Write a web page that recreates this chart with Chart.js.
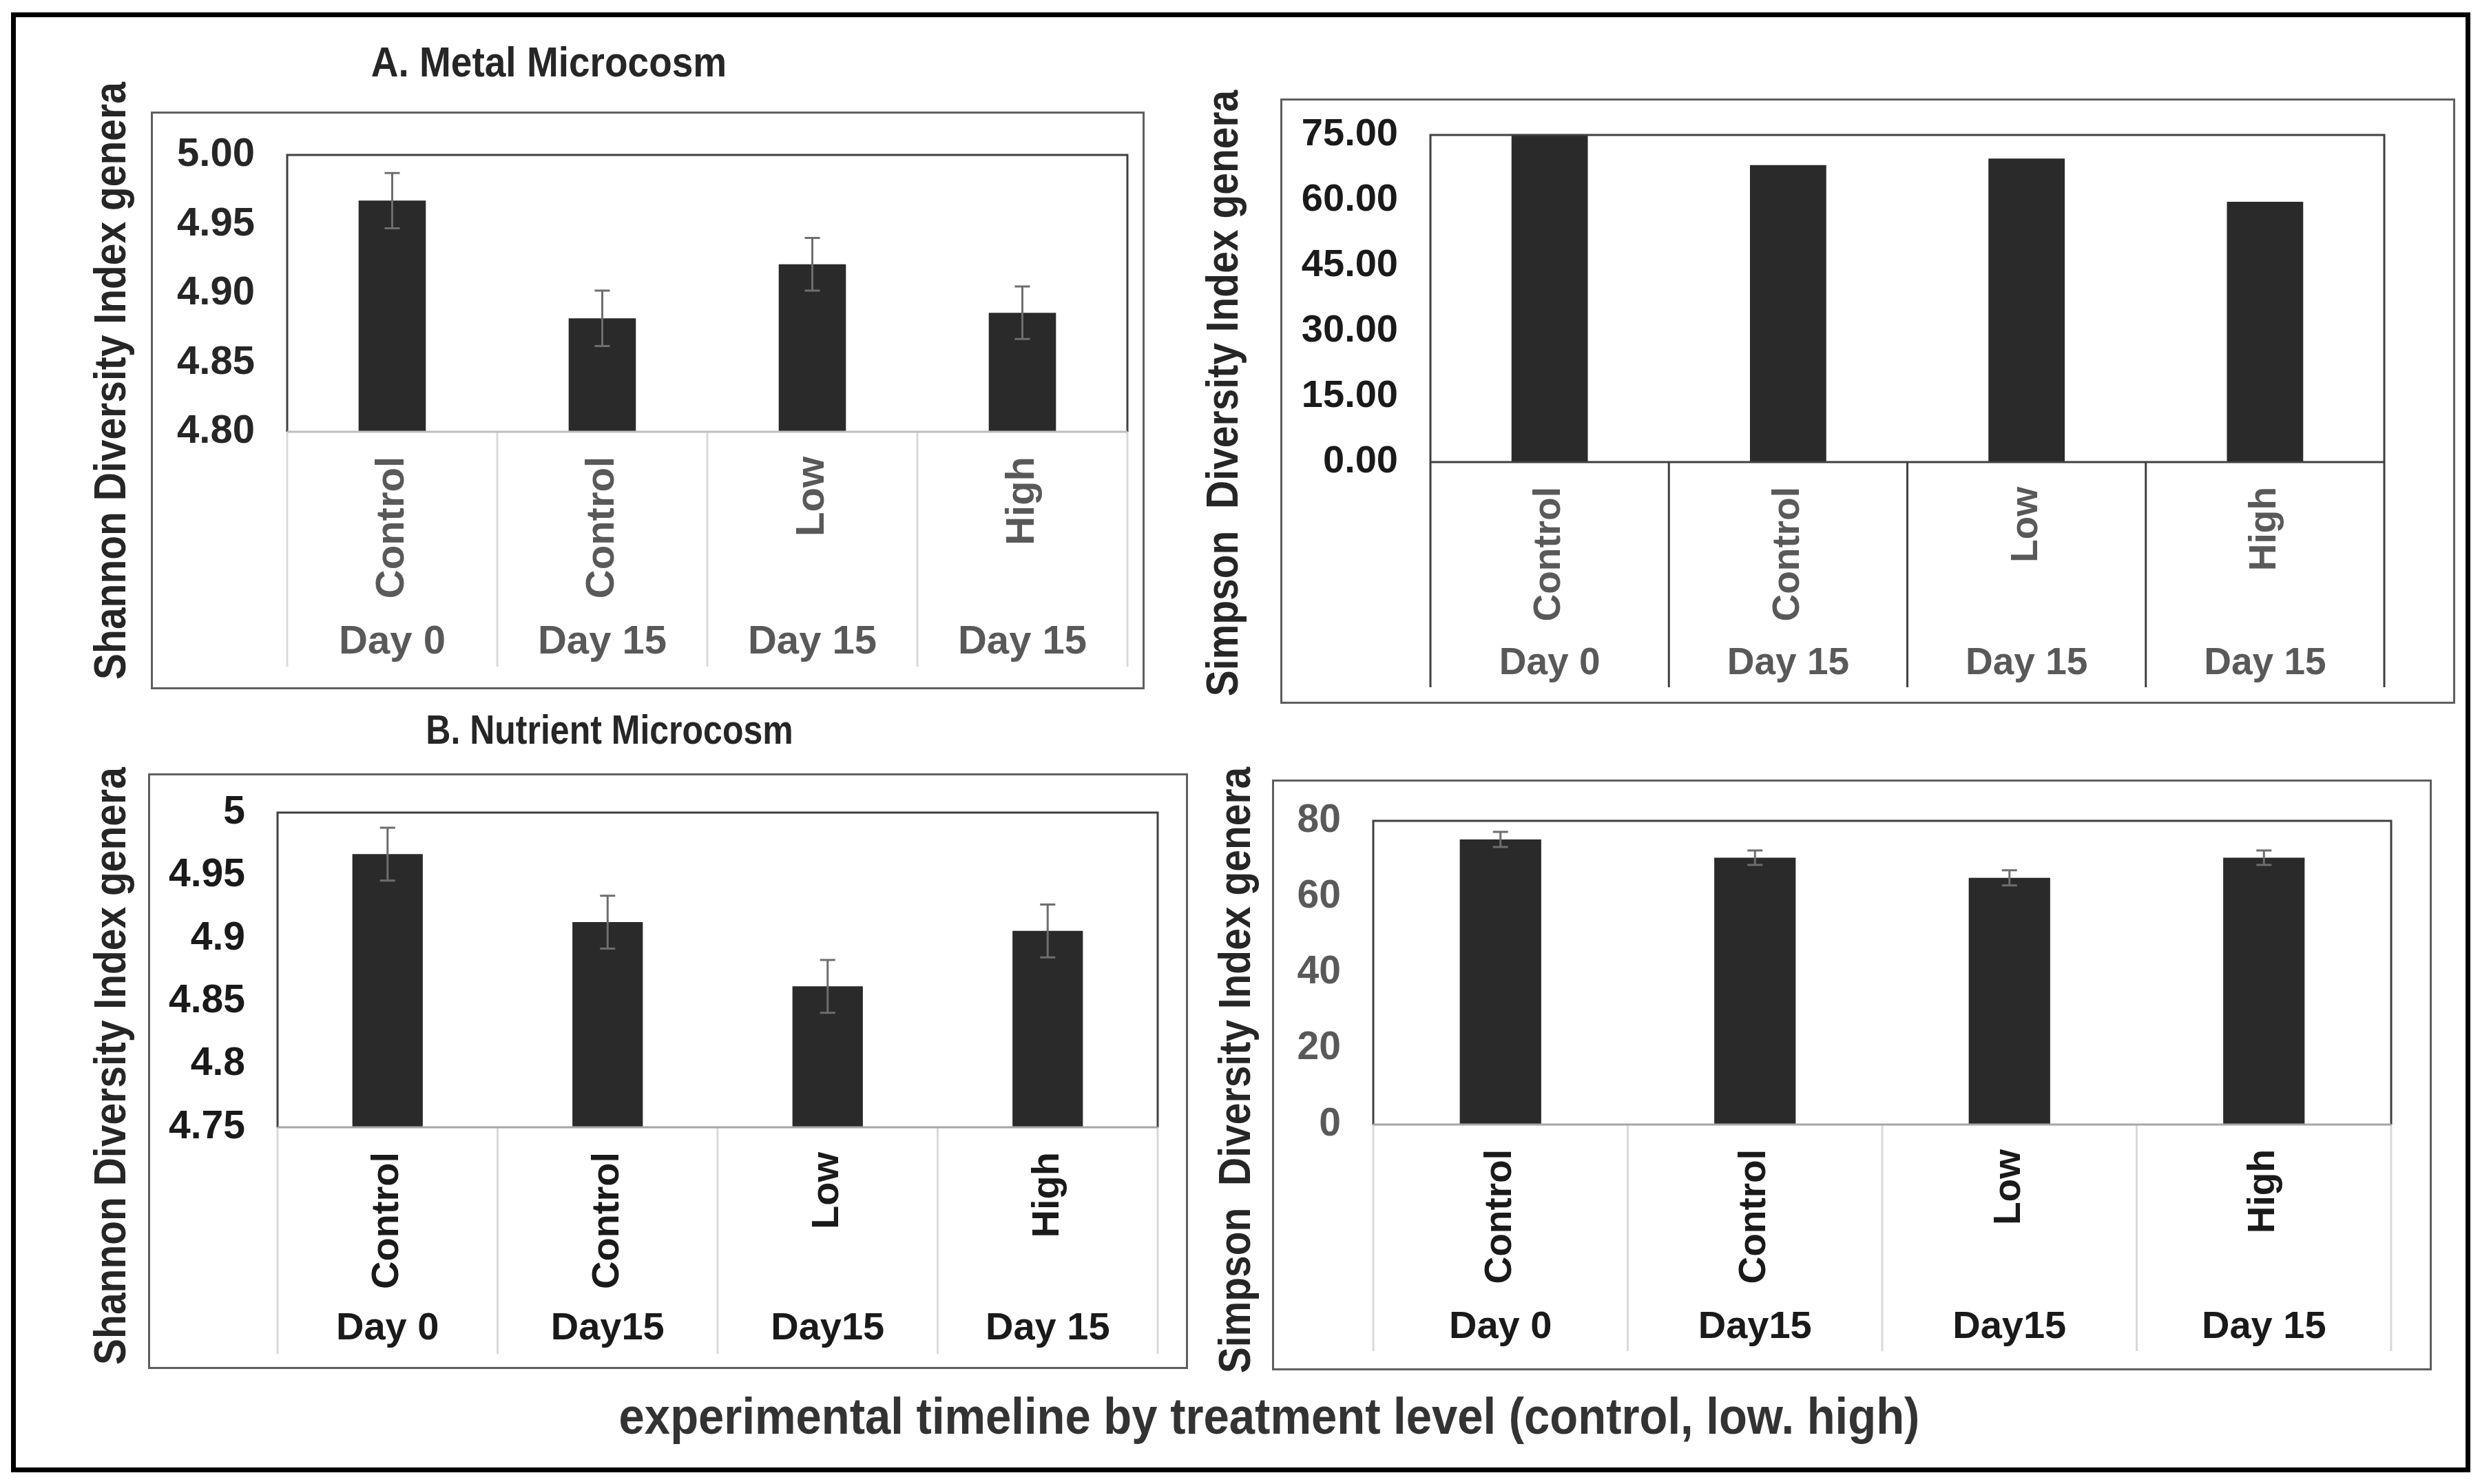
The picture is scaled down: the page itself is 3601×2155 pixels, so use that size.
<!DOCTYPE html>
<html><head><meta charset="utf-8">
<script src="https://cdn.jsdelivr.net/npm/chart.js@4.4.1/dist/chart.umd.min.js"></script>
<style>
html,body{margin:0;padding:0;background:#fff;}
#page{position:relative;width:3601px;height:2155px;overflow:hidden;background:#fff;font-family:'Liberation Sans',Arial,sans-serif;}
.frame{position:absolute;border:7px solid #000;box-sizing:border-box;}
.panel{position:absolute;border:3px solid #5f5f5f;box-sizing:border-box;pointer-events:none;}
canvas{position:absolute;}
.txt{position:absolute;white-space:pre;font-weight:bold;line-height:1;font-family:'Liberation Sans',Arial,sans-serif;}
</style></head><body><div id="page"></div>
<script>
// ---------------- data ----------------
const treatmentLabels = ['Control', 'Control', 'Low', 'High'];
const metalDayLabels = ['Day 0', 'Day 15', 'Day 15', 'Day 15'];
const nutrientDayLabels = ['Day 0', 'Day15', 'Day15', 'Day 15'];

const metalShannon = [4.967, 4.882, 4.921, 4.886];
const metalShannonErr = [0.020, 0.020, 0.019, 0.019];
const metalSimpson = [75.0, 68.1, 69.6, 59.7];

const nutrientShannon = [4.967, 4.913, 4.862, 4.906];
const nutrientShannonErr = [0.021, 0.021, 0.021, 0.021];
const nutrientSimpson = [75.1, 70.3, 65.0, 70.3];
const nutrientSimpsonErr = [2.0, 1.9, 2.0, 1.9];

const titleA = 'A. Metal Microcosm';
const titleB = 'B. Nutrient Microcosm';
const shannonTitle = 'Shannon Diversity Index genera';
const simpsonTitle = 'Simpson  Diversity Index genera';
const bottomTitle = 'experimental timeline by treatment level (control, low. high)';

// ---------------- page decoration ----------------
const page = document.getElementById('page');
const FAM = "'Liberation Sans', Arial, sans-serif";
function box(cls, l, t, r, b) {
  const d = document.createElement('div');
  d.className = cls;
  Object.assign(d.style, {left: l + 'px', top: t + 'px', width: (r - l) + 'px', height: (b - t) + 'px'});
  page.appendChild(d);
  return d;
}
function text(str, cx, baseline, size, color, sy) {
  const d = document.createElement('div');
  d.className = 'txt';
  d.textContent = str;
  Object.assign(d.style, {left: cx + 'px', top: (baseline - 0.8465 * size) + 'px', fontSize: size + 'px', color: color,
    transform: 'translateX(-50%) scaleY(' + (sy || 1) + ')', transformOrigin: '50% 84.65%'});
  page.appendChild(d);
}
function vtext(str, cx, cy, size, color, sy) {
  const d = document.createElement('div');
  d.className = 'txt';
  d.textContent = str;
  Object.assign(d.style, {left: cx + 'px', top: cy + 'px', fontSize: size + 'px', color: color,
    transform: 'translate(-50%,-50%) rotate(-90deg) scaleY(' + (sy || 1) + ')'});
  page.appendChild(d);
}

box('frame', 16, 18, 3587, 2138);

// ---------------- plugins ----------------
const framePlugin = {
  id: 'frame',
  afterDatasetsDraw(chart, args, o) {
    const {ctx, chartArea: {left, top, right, bottom}} = chart;
    const xs = chart.scales.x;
    const n = xs.getLabels().length;
    ctx.save();
    ctx.lineWidth = 3;
    ctx.strokeStyle = o.sepColor;
    for (let i = 0; i <= n; i++) {
      let px;
      if (i === 0) px = left; else if (i === n) px = right;
      else px = (xs.getPixelForValue(i - 1) + xs.getPixelForValue(i)) / 2;
      ctx.beginPath(); ctx.moveTo(px, bottom); ctx.lineTo(px, o.sepEnd); ctx.stroke();
    }
    ctx.strokeStyle = o.boxColor;
    ctx.beginPath(); ctx.moveTo(left, bottom); ctx.lineTo(left, top); ctx.lineTo(right, top); ctx.lineTo(right, bottom); ctx.stroke();
    ctx.strokeStyle = o.axisColor;
    ctx.beginPath(); ctx.moveTo(left, bottom); ctx.lineTo(right, bottom); ctx.stroke();
    ctx.restore();
  }
};
const errorBarPlugin = {
  id: 'errorBars',
  afterDatasetsDraw(chart, args, o) {
    if (!o.errors) return;
    const {ctx} = chart;
    const ys = chart.scales.y;
    const meta = chart.getDatasetMeta(0);
    const vals = chart.data.datasets[0].data;
    ctx.save();
    ctx.strokeStyle = o.color; ctx.lineWidth = 3;
    meta.data.forEach((bar, i) => {
      const x = bar.x;
      const yh = ys.getPixelForValue(vals[i] + o.errors[i]);
      const yl = ys.getPixelForValue(vals[i] - o.errors[i]);
      ctx.beginPath();
      ctx.moveTo(x, yh); ctx.lineTo(x, yl);
      ctx.moveTo(x - o.cap / 2, yh); ctx.lineTo(x + o.cap / 2, yh);
      ctx.moveTo(x - o.cap / 2, yl); ctx.lineTo(x + o.cap / 2, yl);
      ctx.stroke();
    });
    ctx.restore();
  }
};

// ---------------- chart builder ----------------
function makeChart(p) {
  const pb = p.panel; // panel box [l,t,r,b]
  box('panel', pb[0], pb[1], pb[2], pb[3]);
  const cl = pb[0] + 3, ct = pb[1] + 3, cw = pb[2] - pb[0] - 6, ch = pb[3] - pb[1] - 6;
  const cv = document.createElement('canvas');
  cv.width = cw; cv.height = ch;
  Object.assign(cv.style, {left: cl + 'px', top: ct + 'px', width: cw + 'px', height: ch + 'px'});
  page.appendChild(cv);
  const [pl, pt, pr, pbm] = p.plot;
  const dayLH = p.dayFont * 1.2;
  const h1 = p.dayCenter - pbm - dayLH / 2;
  const h2 = (ct + ch) - pbm - h1;
  new Chart(cv.getContext('2d'), {
    type: 'bar',
    data: {labels: treatmentLabels, datasets: [{data: p.values, backgroundColor: '#2a2a2a', borderWidth: 0,
      barPercentage: 0.32, categoryPercentage: 1}]},
    options: {
      responsive: false, animation: false, devicePixelRatio: 1,
      layout: {padding: {top: pt - ct, right: (cl + cw) - pr, left: 0, bottom: 0}},
      plugins: {legend: {display: false}, tooltip: {enabled: false},
        frame: {sepColor: p.sepColor, boxColor: p.boxColor, axisColor: p.axisColor, sepEnd: p.sepEnd - ct},
        errorBars: {errors: p.errors, color: '#6e6e6e', cap: 22}},
      scales: {
        x: {type: 'category', offset: true, weight: 0,
          grid: {display: false, drawTicks: false}, border: {display: false},
          ticks: {color: p.labelColor, font: {family: FAM, size: p.catFont, weight: 'bold'}, padding: 36,
            minRotation: 90, maxRotation: 90, autoSkip: false},
          afterFit: s => { s.height = h1; }},
        x2: {type: 'category', labels: p.dayLabels, position: 'bottom', offset: true, weight: 1,
          grid: {display: false, drawTicks: false}, border: {display: false},
          ticks: {color: p.dayColor, font: {family: FAM, size: p.dayFont, weight: 'bold'}, padding: 0,
            minRotation: 0, maxRotation: 0, autoSkip: false},
          afterFit: s => { s.height = h2; }},
        y: {min: p.min, max: p.max,
          grid: {display: true, drawOnChartArea: false, drawTicks: true, tickLength: 47, color: 'rgba(0,0,0,0)'},
          border: {display: false},
          ticks: {stepSize: p.step, color: p.tickColor, font: {family: FAM, size: p.tickFont, weight: 'bold'}, padding: 0,
            callback: p.fmt},
          afterFit: s => { s.width = pl - cl; }}
      }
    },
    plugins: [framePlugin, errorBarPlugin]
  });
}

// A. Metal – Shannon
makeChart({panel: [219, 162, 1662, 1001], plot: [417, 225, 1637, 627],
  values: metalShannon, errors: metalShannonErr, min: 4.80, max: 5.00, step: 0.05,
  fmt: v => v.toFixed(2), dayLabels: metalDayLabels,
  tickFont: 58, catFont: 58, dayFont: 58, dayCenter: 933, sepEnd: 968,
  tickColor: '#262626', labelColor: '#595959', dayColor: '#595959',
  sepColor: '#d9d9d9', boxColor: '#404040', axisColor: '#bfbfbf'});
// A. Metal – Simpson
makeChart({panel: [1859, 143, 3565, 1022], plot: [2077, 196, 3462, 671],
  values: metalSimpson, errors: null, min: 0, max: 75, step: 15,
  fmt: v => v.toFixed(2), dayLabels: metalDayLabels,
  tickFont: 56, catFont: 55, dayFont: 55, dayCenter: 964, sepEnd: 998,
  tickColor: '#1a1a1a', labelColor: '#595959', dayColor: '#595959',
  sepColor: '#404040', boxColor: '#404040', axisColor: '#404040'});
// B. Nutrient – Shannon
makeChart({panel: [215, 1123, 1725, 1988], plot: [403, 1180, 1681, 1637],
  values: nutrientShannon, errors: nutrientShannonErr, min: 4.75, max: 5.00, step: 0.05,
  fmt: v => String(Number(v.toFixed(2))), dayLabels: nutrientDayLabels,
  tickFont: 57, catFont: 56, dayFont: 56, dayCenter: 1930, sepEnd: 1966,
  tickColor: '#1a1a1a', labelColor: '#1a1a1a', dayColor: '#1a1a1a',
  sepColor: '#d9d9d9', boxColor: '#404040', axisColor: '#a6a6a6'});
// B. Nutrient – Simpson
makeChart({panel: [1847, 1132, 3531, 1990], plot: [1994, 1192, 3472, 1633],
  values: nutrientSimpson, errors: nutrientSimpsonErr, min: 0, max: 80, step: 20,
  fmt: v => String(Math.round(v)), dayLabels: nutrientDayLabels,
  tickFont: 57, catFont: 55, dayFont: 56, dayCenter: 1928, sepEnd: 1962,
  tickColor: '#595959', labelColor: '#1a1a1a', dayColor: '#1a1a1a',
  sepColor: '#d9d9d9', boxColor: '#404040', axisColor: '#a6a6a6'});

// titles
text(titleA, 797, 112, 55, '#262626', 1.1);
text(titleB, 885, 1080, 50, '#262626', 1.18);
text(bottomTitle, 1843, 2082, 67, '#333333', 1.1);
vtext(shannonTitle, 160, 553, 57, '#262626', 1.15);
vtext(simpsonTitle, 1775, 571, 57, '#262626', 1.15);
vtext(shannonTitle, 160, 1548, 57, '#262626', 1.15);
vtext(simpsonTitle, 1793, 1554, 57, '#262626', 1.15);
</script></body></html>
